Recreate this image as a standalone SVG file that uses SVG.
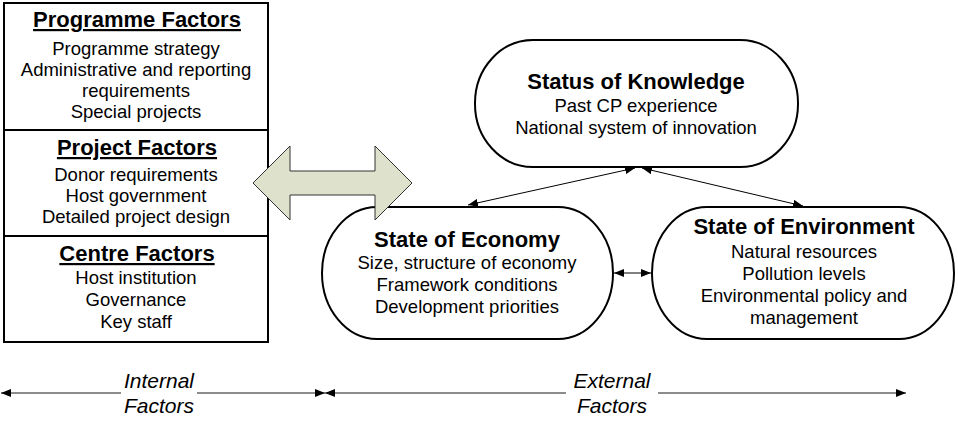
<svg xmlns="http://www.w3.org/2000/svg" width="958" height="421" viewBox="0 0 958 421">
<style>
text{font-family:"Liberation Sans",Arial,sans-serif;fill:#000;text-anchor:middle}
.t{font-size:22px;font-weight:bold}
.u{text-decoration:underline}
.b{font-size:18.5px}
.i{font-size:21px;font-style:italic}
.box{fill:#fff;stroke:#000;stroke-width:2}
.con{stroke:#000;stroke-width:1;fill:none}
.axis{stroke:#666;stroke-width:1.6;fill:none}
</style>
<defs>
<marker id="ah" viewBox="0 0 10 8" refX="10" refY="4" markerWidth="10" markerHeight="8" markerUnits="userSpaceOnUse" orient="auto-start-reverse">
<path d="M0,0 L10,4 L0,8 Z" fill="#000"/>
</marker>
</defs>
<g id="internal-box">
<rect class="box" x="4" y="3" width="264" height="339"/>
<line x1="4" y1="130" x2="268" y2="130" stroke="#000" stroke-width="2"/>
<line x1="4" y1="236" x2="268" y2="236" stroke="#000" stroke-width="2"/>
</g>
<g id="programme-factors">
<text class="t u" x="137" y="27">Programme Factors</text>
<text class="b" x="136" y="55">Programme strategy</text>
<text class="b" x="136" y="76">Administrative and reporting</text>
<text class="b" x="136" y="97">requirements</text>
<text class="b" x="136" y="118">Special projects</text>
</g>
<g id="project-factors">
<text class="t u" x="137" y="155">Project Factors</text>
<text class="b" x="136" y="181">Donor requirements</text>
<text class="b" x="136" y="202">Host government</text>
<text class="b" x="136" y="223">Detailed project design</text>
</g>
<g id="centre-factors">
<text class="t u" x="137" y="261">Centre Factors</text>
<text class="b" x="136" y="284">Host institution</text>
<text class="b" x="136" y="306">Governance</text>
<text class="b" x="136" y="328">Key staff</text>
</g>
<g id="status-knowledge">
<rect class="box" x="475" y="40" width="323" height="127" rx="58" ry="63"/>
<text class="t" x="636" y="89">Status of Knowledge</text>
<text class="b" x="636" y="112">Past CP experience</text>
<text class="b" x="636" y="134">National system of innovation</text>
</g>
<g id="state-economy">
<rect class="box" x="322" y="207" width="291" height="132" rx="55" ry="66"/>
<text class="t" x="467" y="247">State of Economy</text>
<text class="b" x="467" y="269">Size, structure of economy</text>
<text class="b" x="467" y="291">Framework conditions</text>
<text class="b" x="467" y="313">Development priorities</text>
</g>
<g id="state-environment">
<rect class="box" x="652" y="207" width="302" height="132" rx="55" ry="66"/>
<text class="t" x="804" y="234">State of Environment</text>
<text class="b" x="804" y="258">Natural resources</text>
<text class="b" x="804" y="280">Pollution levels</text>
<text class="b" x="804" y="302">Environmental policy and</text>
<text class="b" x="804" y="324">management</text>
</g>
<g id="connectors">
<path d="M253,183 L290,146 L290,171 L375,171 L375,146 L412,183 L375,220 L375,195 L290,195 L290,220 Z" fill="#dee2cd" stroke="#333" stroke-width="1"/>
<line class="con" x1="635" y1="168" x2="468" y2="205" marker-start="url(#ah)" marker-end="url(#ah)"/>
<line class="con" x1="642" y1="168" x2="803" y2="206" marker-start="url(#ah)" marker-end="url(#ah)"/>
<line class="con" x1="614" y1="273" x2="651" y2="273" marker-start="url(#ah)" marker-end="url(#ah)"/>
<line class="axis" x1="1" y1="393" x2="325" y2="393" marker-start="url(#ah)" marker-end="url(#ah)"/>
<line class="axis" x1="325" y1="393" x2="906" y2="393" marker-start="url(#ah)" marker-end="url(#ah)"/>
<rect x="121" y="370" width="76" height="50" fill="#fff"/>
<rect x="566" y="370" width="92" height="50" fill="#fff"/>
</g>
<g id="internal-label">
<text class="i" x="159" y="388">Internal</text>
<text class="i" x="159" y="413">Factors</text>
</g>
<g id="external-label">
<text class="i" x="612" y="388">External</text>
<text class="i" x="612" y="413">Factors</text>
</g>
</svg>
